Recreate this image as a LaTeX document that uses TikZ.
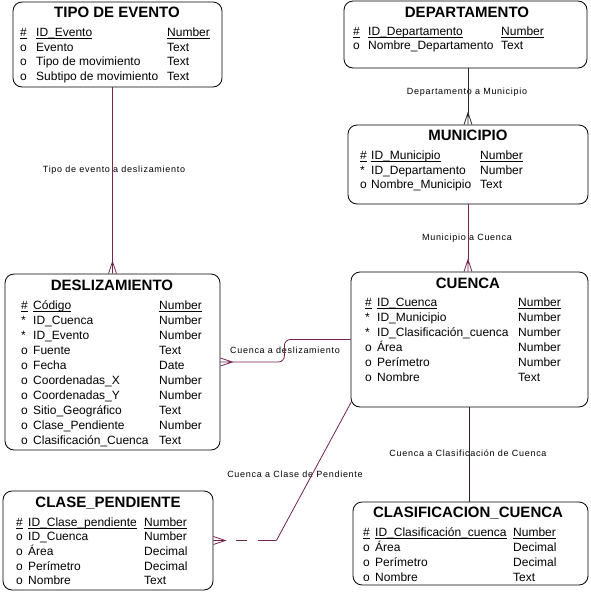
\documentclass[tikz,border=0pt]{standalone}
\usepackage{fontspec}
\setmainfont{Liberation Sans}
\newfontfamily\lblfont{Liberation Sans}[LetterSpace=8]
\usetikzlibrary{calc,positioning}
\definecolor{rel}{RGB}{115,35,80}
\definecolor{reloscuro}{RGB}{45,35,40}
\newcommand{\clave}[1]{\underline{\smash{#1}}}

\begin{document}
\begin{tikzpicture}[x=1pt,y=-1pt,
  ent/.style={draw,rounded corners=9pt,line width=.8pt,inner sep=0pt},
  tit/.style={font=\bfseries\fontsize{15}{17}\selectfont,inner sep=0pt,text height=10.8pt,text depth=0pt},
  fld/.style={anchor=west,font=\fontsize{12}{14}\selectfont,inner sep=0pt,text height=8.6pt,text depth=0pt},
  lbl/.style={font=\lblfont\fontsize{9}{10}\selectfont,inner sep=0pt},
  linea/.style={draw=rel,line width=.8pt},
  pata/.pic={\draw[line width=.8pt] (0,-4) -- (12,0) -- (0,4) (0,0) -- (12,0);}]
  \useasboundingbox (0,0) rectangle (591,595);

  % entidades
  \node[ent,minimum width=209pt,minimum height=85pt] (tipo) at (117.5,44.5) {};
  \node[ent,minimum width=243pt,minimum height=67pt] (depto) at (465.5,34.5) {};
  \node[ent,minimum width=240pt,minimum height=79pt] (muni) at (468,164.5) {};
  \node[ent,minimum width=237pt,minimum height=135pt] (cuenca) at (469.5,339.5) {};
  \node[ent,minimum width=215pt,minimum height=176pt] (desl) at (112.5,362) {};
  \node[ent,minimum width=210pt,minimum height=99pt] (clase) at (108,540.5) {};
  \node[ent,minimum width=235pt,minimum height=83pt] (clasif) at (470.5,543.5) {};

  % TIPO DE EVENTO
  \node[tit] (tipo-t) at (117,12) {TIPO DE EVENTO};
  \node[fld] (tipo-h1) at (20,32) {\clave{\#}};
  \node[fld] (tipo-h2) at (36,32) {\clave{ID\_Evento}};
  \node[fld] (tipo-h3) at (167,32) {\clave{Number}};
  \foreach \m/\n/\t [count=\i] in {o/Evento/Text,o/Tipo de movimiento/Text,o/Subtipo de movimiento/Text}{
    \node[fld] (tipo-m\i) at (20,32+14.7*\i) {\m};
    \node[fld] (tipo-n\i) at (36,32+14.7*\i) {\n};
    \node[fld] (tipo-d\i) at (167,32+14.7*\i) {\t};
  }

  % DEPARTAMENTO
  \node[tit] (depto-t) at (467,12) {DEPARTAMENTO};
  \node[fld] (depto-h1) at (353,31) {\clave{\#}};
  \node[fld] (depto-h2) at (368,31) {\clave{ID\_Departamento}};
  \node[fld] (depto-h3) at (501,31) {\clave{Number}};
  \node[fld] (depto-m1) at (353,45) {o};
  \node[fld] (depto-n1) at (368,45) {Nombre\_Departamento};
  \node[fld] (depto-d1) at (501,45) {Text};

  % MUNICIPIO
  \node[tit] (muni-t) at (468,135) {MUNICIPIO};
  \node[fld] (muni-h1) at (360,155) {\clave{\#}};
  \node[fld] (muni-h2) at (371,155) {\clave{ID\_Municipio}};
  \node[fld] (muni-h3) at (480,155) {\clave{Number}};
  \foreach \m/\n/\t [count=\i] in {*/ID\_Departamento/Number,o/Nombre\_Municipio/Text}{
    \node[fld] (muni-m\i) at (360,155+14.7*\i) {\m};
    \node[fld] (muni-n\i) at (371,155+14.7*\i) {\n};
    \node[fld] (muni-d\i) at (480,155+14.7*\i) {\t};
  }

  % CUENCA
  \node[tit] (cuenca-t) at (468,283) {CUENCA};
  \node[fld] (cuenca-h1) at (365,302) {\clave{\#}};
  \node[fld] (cuenca-h2) at (377,302) {\clave{ID\_Cuenca}};
  \node[fld] (cuenca-h3) at (518,302) {\clave{Number}};
  \foreach \m/\n/\t [count=\i] in {*/ID\_Municipio/Number,*/ID\_Clasificación\_cuenca/Number,o/Área/Number,o/Perímetro/Number,o/Nombre/Text}{
    \node[fld] (cuenca-m\i) at (365,302+15*\i) {\m};
    \node[fld] (cuenca-n\i) at (377,302+15*\i) {\n};
    \node[fld] (cuenca-d\i) at (518,302+15*\i) {\t};
  }

  % DESLIZAMIENTO
  \node[tit] (desl-t) at (112,285) {DESLIZAMIENTO};
  \node[fld] (desl-h1) at (21,305) {\clave{\#}};
  \node[fld] (desl-h2) at (33,305) {\clave{Código}};
  \node[fld] (desl-h3) at (159,305) {\clave{Number}};
  \foreach \m/\n/\t [count=\i] in {*/ID\_Cuenca/Number,*/ID\_Evento/Number,o/Fuente/Text,o/Fecha/Date,o/Coordenadas\_X/Number,o/Coordenadas\_Y/Number,o/Sitio\_Geográfico/Text,o/Clase\_Pendiente/Number,o/Clasificación\_Cuenca/Text}{
    \node[fld] (desl-m\i) at (21,305+15*\i) {\m};
    \node[fld] (desl-n\i) at (33,305+15*\i) {\n};
    \node[fld] (desl-d\i) at (159,305+15*\i) {\t};
  }

  % CLASE_PENDIENTE
  \node[tit] (clase-t) at (108,502) {CLASE\_PENDIENTE};
  \node[fld] (clase-h1) at (16,522) {\clave{\#}};
  \node[fld] (clase-h2) at (28,522) {\clave{ID\_Clase\_pendiente}};
  \node[fld] (clase-h3) at (144,522) {\clave{Number}};
  \foreach \m/\n/\t [count=\i] in {o/ID\_Cuenca/Number,o/Área/Decimal,o/Perímetro/Decimal,o/Nombre/Text}{
    \node[fld] (clase-m\i) at (16,522+14.6*\i) {\m};
    \node[fld] (clase-n\i) at (28,522+14.6*\i) {\n};
    \node[fld] (clase-d\i) at (144,522+14.6*\i) {\t};
  }

  % CLASIFICACION_CUENCA
  \node[tit] (clasif-t) at (468,512) {CLASIFICACION\_CUENCA};
  \node[fld] (clasif-h1) at (363,532) {\clave{\#}};
  \node[fld] (clasif-h2) at (375,532) {\clave{ID\_Clasificación\_cuenca}};
  \node[fld] (clasif-h3) at (513,532) {\clave{Number}};
  \foreach \m/\n/\t [count=\i] in {o/Área/Decimal,o/Perímetro/Decimal,o/Nombre/Text}{
    \node[fld] (clasif-m\i) at (363,532+15*\i) {\m};
    \node[fld] (clasif-n\i) at (375,532+15*\i) {\n};
    \node[fld] (clasif-d\i) at (513,532+15*\i) {\t};
  }

  % nombres de las relaciones
  \node[lbl] (etq1) at (114,170) {Tipo de evento a deslizamiento};
  \node[lbl] (etq2) at (467,92) {Departamento a Municipio};
  \node[lbl] (etq3) at (467,238) {Municipio a Cuenca};
  \node[lbl] (etq4) at (285,350) {Cuenca a deslizamiento};
  \node[lbl] (etq5) at (295,474) {Cuenca a Clase de Pendiente};
  \node[lbl] (etq6) at (468,453) {Cuenca a Clasificación de Cuenca};

  % relaciones
  \draw[linea] (tipo.south -| desl.north) -- ($(desl.north)+(0,-12)$);
  \pic[rotate=90,color=rel] at (desl.north) {pata};
  \draw[linea,draw=reloscuro] (depto.south -| muni.north) -- ($(muni.north)+(0,-12)$);
  \pic[rotate=90,color=reloscuro] at (muni.north) {pata};
  \draw[linea] (muni.south) -- ($(muni.south |- cuenca.north)+(0,-12)$);
  \pic[rotate=90,color=rel] at (muni.south |- cuenca.north) {pata};
  \draw[linea,draw=reloscuro] (cuenca.south) -- (cuenca.south |- clasif.north);
  \draw[linea,rounded corners=6pt] (cuenca.west) -| ($(desl.east)+(64,0)$) -- ($(desl.east)+(12,0)$);
  \pic[color=rel] at (desl.east) {pata};
  \coordinate (quiebre) at ($(clase.east)+(63,0)$);
  \draw[linea] ([xshift=1pt,yshift=6pt]cuenca.south west) -- (quiebre);
  \draw[linea,dash pattern=on 18pt off 11pt on 11pt off 20pt] (quiebre) -- ($(clase.east)+(12,0)$);
  \pic[color=rel] at (clase.east) {pata};
\end{tikzpicture}
\end{document}
